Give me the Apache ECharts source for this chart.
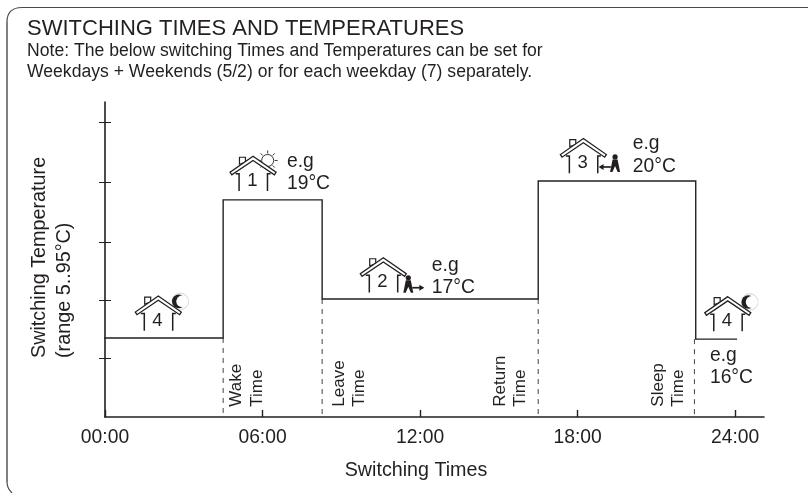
<!DOCTYPE html>
<html>
<head>
<meta charset="utf-8">
<style>
html, body { margin: 0; padding: 0; background: #fff; }
#chart { width: 810px; height: 493px; }
</style>
<script src="https://cdn.jsdelivr.net/npm/echarts@6/dist/echarts.min.js"></script>
</head>
<body>
<div id="chart"></div>
<script>
// hours on the x axis, tick units on the y axis (the y ticks carry no numbers)
var stepTimes = [0, 4.5, 4.5, 8.27, 8.27, 16.5, 16.5, 22.5, 22.5, 24.05];
var stepLevels = [1.34, 1.34, 3.68, 3.68, 2.0, 2.0, 4.0, 4.0, 1.32, 1.32];
var switchTimes = [4.5, 8.27, 16.5, 22.45];
var switchLevels = [1.34, 2.0, 2.0, 1.32];
var xTicks = [0, 6, 12, 18, 24];
var yTicks = [1, 1.98, 2.97, 3.98, 5];

// rotated names beside the dashed lines
var switchNames = ['Wake', 'Leave', 'Return', 'Sleep'];
var nameTimes = [5.41, 9.3, 15.43, 21.45];
var nameLevel = 0.175;

// house number, hour and level of the roof peak, which icon sits next to it
var houseNumbers = ['4', '1', '2', '3', '4'];
var houseTimes = [2.03, 5.64, 10.6, 18.22, 23.72];
var houseLevels = [2.05, 4.42, 2.7, 4.72, 2.04];
var houseIcons = ['moon', 'sun', 'out', 'in', 'moon'];

// example temperature notes
var noteTexts = ['e.g\n19°C', 'e.g\n17°C', 'e.g\n20°C', 'e.g\n16°C'];
var noteTimes = [6.93, 12.45, 20.1, 23.04];
var noteLevels = [4.14, 2.38, 4.44, 0.85];

var FONT = '"Liberation Sans", Arial, sans-serif';
var INK = '#231f20';

function moon() {
    return [
        {type: 'circle', shape: {cx: 22, cy: 5.3, r: 8.2}, style: {fill: '#fff', stroke: '#c8c8c8', lineWidth: 0.8}},
        {type: 'circle', shape: {cx: 20.5, cy: 5.3, r: 6.8}, style: {fill: INK}},
        {type: 'circle', shape: {cx: 24, cy: 5.3, r: 6}, style: {fill: '#fff'}}
    ];
}

function sun() {
    var list = [{type: 'circle', shape: {cx: 14.6, cy: 4.2, r: 6}, style: {fill: '#fff', stroke: INK, lineWidth: 0.9}}];
    for (var i = 0; i < 8; i++) {
        var a = i * Math.PI / 4;
        list.push({type: 'line', shape: {
            x1: 14.6 + Math.cos(a) * 7, y1: 4.2 + Math.sin(a) * 7,
            x2: 14.6 + Math.cos(a) * 10, y2: 4.2 + Math.sin(a) * 10
        }, style: {stroke: INK, lineWidth: 0.9}});
    }
    return list;
}

// walking figure with its arrow: dir 1 walks out of the house, -1 comes back
function person(dir) {
    var hx = dir > 0 ? 25 : 31.7;
    var tip = dir > 0 ? 39.5 : 16.7;
    var tail = dir > 0 ? 29 : 27.5;
    var ay = dir > 0 ? 30 : 28.4;
    var top = dir > 0 ? 20 : 18.4;
    return [
        {type: 'circle', shape: {cx: hx, cy: top, r: 2.6}, style: {fill: INK}},
        {type: 'polygon', shape: {points: [
            [hx - 2.5, top + 2.5], [hx + 2.5, top + 2.5], [hx + 5, top + 15], [hx + 2.6, top + 15],
            [hx, top + 9], [hx - 2.6, top + 15], [hx - 5, top + 15]
        ]}, style: {fill: INK}},
        {type: 'line', shape: {x1: tail, y1: ay, x2: tip, y2: ay}, style: {stroke: INK, lineWidth: 1.7}},
        {type: 'polygon', shape: {points: [
            [tip + dir * 1.5, ay], [tip - dir * 3.5, ay - 3], [tip - dir * 3.5, ay + 3]
        ]}, style: {fill: INK}}
    ];
}

function renderHouse(params, api) {
    var i = params.dataIndex;
    var p = api.coord([api.value(0), api.value(1)]);
    var icon = houseIcons[i];
    var kids = [];
    if (icon === 'moon') kids = kids.concat(moon());
    if (icon === 'sun') kids = kids.concat(sun());
    kids.push({type: 'polyline', shape: {points: [[-14, 34.7], [-14, 17.5], [-17.5, 17.5]]}, style: {fill: null, stroke: INK, lineWidth: 1.5}});
    kids.push({type: 'polyline', shape: {points: [[14.4, 34.7], [14.4, 17.5], [17.5, 17.5]]}, style: {fill: null, stroke: INK, lineWidth: 1.5}});
    kids.push({type: 'polygon', shape: {points: [[-13.6, 8], [-13.6, 1], [-7.6, 1], [-7.6, 6]]}, style: {fill: '#fff', stroke: INK, lineWidth: 1.2}});
    kids.push({type: 'polygon', shape: {points: [[0, 0], [23, 16], [21.3, 18.6], [0, 4.2], [-21.3, 18.6], [-23, 16]]}, style: {fill: '#fff', stroke: INK, lineWidth: 1.3}});
    kids.push({type: 'text', x: -0.8, y: 24.5, style: {text: houseNumbers[i], font: '18.5px ' + FONT, fill: INK, align: 'center', verticalAlign: 'middle'}});
    if (icon === 'out') kids = kids.concat(person(1));
    if (icon === 'in') kids = kids.concat(person(-1));
    return {type: 'group', x: p[0], y: p[1], children: kids};
}

var myChart = echarts.init(document.getElementById('chart'), null, {renderer: 'canvas'});

var dashSeries = switchTimes.map(function (t, i) {
    return {
        type: 'line',
        data: [[t, switchLevels[i]], [t, 0]],
        symbol: 'none',
        silent: true,
        z: 1,
        lineStyle: {color: '#444', width: 1, type: [5, 5]}
    };
});

var option = {
    animation: false,
    backgroundColor: '#fff',
    textStyle: {fontFamily: FONT},
    grid: {left: 105, right: 46, top: 102, bottom: 76},
    xAxis: {
        type: 'value',
        min: 0,
        max: 25.1,
        splitLine: {show: false},
        axisLine: {onZero: false, lineStyle: {color: INK, width: 1.6}},
        axisTick: {
            show: true, inside: true, length: 7,
            customValues: xTicks,
            lineStyle: {color: INK, width: 1.4}
        },
        axisLabel: {
            customValues: xTicks,
            color: INK, fontSize: 19.3, margin: 11,
            formatter: function (v) { return (v < 10 ? '0' : '') + v + ':00'; }
        }
    },
    yAxis: [
        {
            type: 'value', min: 0, max: 5.34,
            splitLine: {show: false},
            axisLabel: {show: false},
            axisLine: {onZero: false, lineStyle: {color: INK, width: 1.6}},
            axisTick: {show: true, length: 6, customValues: yTicks, lineStyle: {color: INK, width: 1}}
        },
        {
            type: 'value', min: 0, max: 5.34, position: 'left',
            splitLine: {show: false},
            axisLabel: {show: false},
            axisLine: {show: false},
            axisTick: {show: true, inside: true, length: 6, customValues: yTicks, lineStyle: {color: INK, width: 1}}
        }
    ],
    series: dashSeries.concat([
        {
            type: 'line',
            data: stepTimes.map(function (t, i) { return [t, stepLevels[i]]; }),
            symbol: 'none',
            silent: true,
            z: 3,
            lineStyle: {color: INK, width: 1.4, cap: 'square', join: 'miter'}
        },
        {
            type: 'custom',
            data: houseTimes.map(function (t, i) { return [t, houseLevels[i]]; }),
            renderItem: renderHouse,
            silent: true,
            z: 4,
            clip: false
        },
        {
            type: 'scatter',
            data: noteTimes.map(function (t, i) { return [t, noteLevels[i]]; }),
            symbolSize: 0,
            silent: true,
            z: 5,
            itemStyle: {opacity: 1},
            label: {
                show: true, position: 'right', distance: 0,
                align: 'left', color: INK, fontSize: 19.3, lineHeight: 22.6,
                formatter: function (p) { return noteTexts[p.dataIndex]; }
            }
        },
        {
            type: 'scatter',
            data: nameTimes.map(function (t) { return [t, nameLevel]; }),
            symbolSize: 0,
            silent: true,
            z: 5,
            itemStyle: {opacity: 1},
            label: {
                show: true, position: [0, 0],
                rotate: 90, align: 'left', verticalAlign: 'middle',
                color: INK, fontSize: 17, lineHeight: 20.6,
                formatter: function (p) { return switchNames[p.dataIndex] + '\nTime'; }
            }
        }
    ]),
    graphic: [
        {type: 'polyline', silent: true, shape: {points: [[808, 7.5], [22, 7.5]]}, style: {fill: null, stroke: '#4a4a4a', lineWidth: 1.2}},
        {type: 'bezierCurve', silent: true, shape: {x1: 22, y1: 7.5, cpx1: 7, cpy1: 7.5, x2: 7, y2: 22}, style: {fill: null, stroke: '#4a4a4a', lineWidth: 1.2}},
        {type: 'polyline', silent: true, shape: {points: [[7, 22], [7, 482]]}, style: {fill: null, stroke: '#4a4a4a', lineWidth: 1.4}},
        {type: 'bezierCurve', silent: true, shape: {x1: 7, y1: 482, cpx1: 7, cpy1: 488, x2: 12, y2: 493}, style: {fill: null, stroke: '#4a4a4a', lineWidth: 1.2}},
        {type: 'text', x: 27, y: 29, style: {text: 'SWITCHING TIMES AND TEMPERATURES', font: '22px ' + FONT, fill: INK, verticalAlign: 'middle'}},
        {type: 'text', x: 27, y: 51, style: {text: 'Note: The below switching Times and Temperatures can be set for', font: '17.6px ' + FONT, fill: INK, verticalAlign: 'middle'}},
        {type: 'text', x: 27, y: 72, style: {text: 'Weekdays + Weekends (5/2) or for each weekday (7) separately.', font: '17.6px ' + FONT, fill: INK, verticalAlign: 'middle'}},
        {type: 'text', x: 40, y: 358, rotation: Math.PI / 2, style: {text: 'Switching Temperature', font: '19.8px ' + FONT, fill: INK, align: 'left', verticalAlign: 'middle'}},
        {type: 'text', x: 65, y: 358, rotation: Math.PI / 2, style: {text: '(range 5..95°C)', font: '19.8px ' + FONT, fill: INK, align: 'left', verticalAlign: 'middle'}},
        {type: 'text', x: 416, y: 471, style: {text: 'Switching Times', font: '19.7px ' + FONT, fill: INK, align: 'center', verticalAlign: 'middle'}}
    ]
};

option && myChart.setOption(option);
</script>
</body>
</html>
